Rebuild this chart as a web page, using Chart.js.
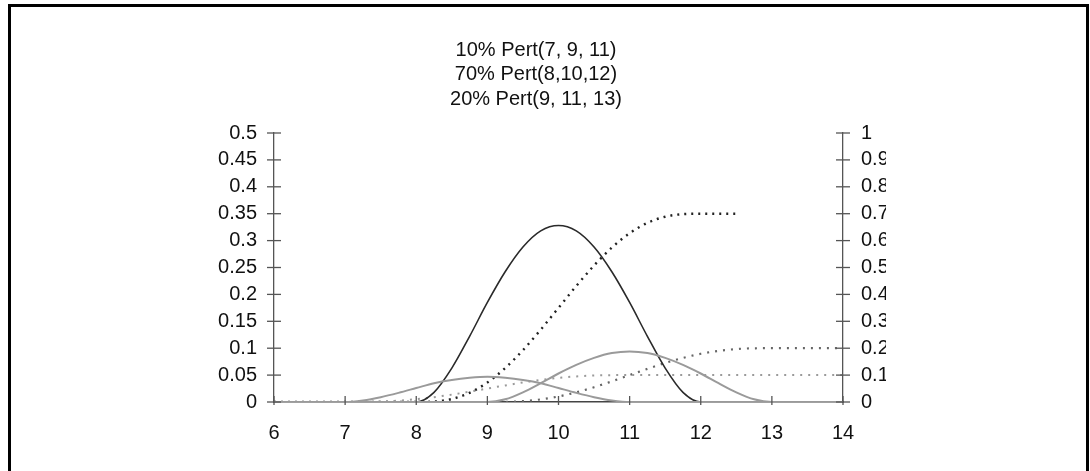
<!DOCTYPE html>
<html>
<head>
<meta charset="utf-8">
<script src="https://cdn.jsdelivr.net/npm/chart.js@4/dist/chart.umd.min.js"></script>
<style>
  html, body { margin: 0; padding: 0; background: #fff; overflow: hidden; }
  #frame { position: absolute; left: 8px; top: 4px; width: 1075px; height: 520px;
           border: 3px solid #000; border-bottom: none; }
  #wrap { position: absolute; left: 0; top: 0; width: 886px; height: 471px; overflow: hidden; }
  #chart { position: absolute; left: 0; top: 0; }
</style>
</head>
<body>
<div id="frame"></div>
<div id="wrap"><canvas id="chart" width="1072" height="471"></canvas></div>
<script>
const titleLines = ['10% Pert(7, 9, 11)', '70% Pert(8,10,12)', '20% Pert(9, 11, 13)'];

const xValues = [6, 6.25, 6.5, 6.75, 7, 7.25, 7.5, 7.75, 8, 8.25, 8.5, 8.75, 9, 9.25, 9.5, 9.75,
  10, 10.25, 10.5, 10.75, 11, 11.25, 11.5, 11.75, 12, 12.25, 12.5, 12.75, 13, 13.25, 13.5, 13.75, 14];

// densities (left axis)
const pdf10 = [0, 0, 0, 0, 0, 0.003, 0.009, 0.017, 0.026, 0.035, 0.041, 0.045, 0.047, 0.045, 0.041, 0.035,
  0.026, 0.017, 0.009, 0.003, 0, 0, 0, 0, 0, 0, 0, 0, 0, 0, 0, 0, 0];
const pdf70 = [0, 0, 0, 0, 0, 0, 0, 0, 0, 0.018, 0.063, 0.122, 0.185, 0.242, 0.288, 0.318,
  0.328, 0.318, 0.288, 0.242, 0.185, 0.122, 0.063, 0.018, 0, 0, 0, 0, 0, 0, 0, 0, 0];
const pdf20 = [0, 0, 0, 0, 0, 0, 0, 0, 0, 0, 0, 0, 0, 0.005, 0.018, 0.035,
  0.053, 0.069, 0.082, 0.091, 0.094, 0.091, 0.082, 0.069, 0.053, 0.035, 0.018, 0.005, 0, 0, 0, 0, 0];

// cumulative (right axis)
const cdf10 = [0, 0, 0, 0, 0, 0.0002, 0.0016, 0.0049, 0.0104, 0.018, 0.0275, 0.0384, 0.05, 0.0616, 0.0725, 0.082,
  0.0896, 0.0951, 0.0984, 0.0998, 0.1, 0.1, 0.1, 0.1, 0.1, 0.1, 0.1, 0.1, 0.1, 0.1, 0.1, 0.1, 0.1];
const cdf70 = [0, 0, 0, 0, 0, 0, 0, 0, 0, 0.0016, 0.0112, 0.0341, 0.0725, 0.126, 0.1926, 0.2688,
  0.35, 0.4312, 0.5074, 0.574, 0.6275, 0.6659, 0.6888, 0.6984, 0.7, 0.7, 0.7, null, null, null, null, null, null];
const cdf20 = [0, 0, 0, 0, 0, 0, 0, 0, 0, 0, 0, 0, 0, 0.0004, 0.0032, 0.0098,
  0.0207, 0.036, 0.055, 0.0768, 0.1, 0.1232, 0.145, 0.164, 0.1793, 0.1902, 0.1968, 0.1996, 0.2, 0.2, 0.2, 0.2, 0.2];

const pts = arr => arr.map((v, i) => ({ x: xValues[i], y: v }));
const fmt = v => String(+Number(v).toFixed(2));

function line(data, color, width, axis, dash) {
  return {
    data: pts(data), borderColor: color, borderWidth: width, yAxisID: axis,
    borderDash: dash || [], pointRadius: 0, tension: 0.4, cubicInterpolationMode: 'monotone',
    fill: false
  };
}

// tick marks that cross the axis lines
const crossTicks = {
  id: 'crossTicks',
  afterDraw(chart) {
    const ctx = chart.ctx;
    ctx.save();
    ctx.strokeStyle = '#555';
    ctx.lineWidth = 1.3;
    ['y', 'y1'].forEach(id => {
      const s = chart.scales[id];
      const x = id === 'y' ? s.right : s.left;
      s.ticks.forEach((t, i) => {
        const y = s.getPixelForTick(i);
        ctx.beginPath(); ctx.moveTo(x - 7, y); ctx.lineTo(x + 7, y); ctx.stroke();
      });
    });
    const sx = chart.scales.x;
    sx.ticks.forEach((t, i) => {
      const x = sx.getPixelForTick(i);
      ctx.beginPath(); ctx.moveTo(x, sx.top - 6); ctx.lineTo(x, sx.top + 3); ctx.stroke();
    });
    ctx.restore();
  }
};

const tickFont = { family: 'Arial, "Liberation Sans", sans-serif', size: 20 };
const noGrid = { display: false, drawTicks: false };

new Chart(document.getElementById('chart'), {
  type: 'line',
  data: {
    datasets: [
      line(pdf10, '#9a9a9a', 2, 'y'),
      line(pdf20, '#9a9a9a', 2, 'y'),
      line(pdf70, '#2a2a2a', 1.6, 'y'),
      line(cdf10, '#9a9a9a', 2, 'y1', [2, 6]),
      line(cdf20, '#666', 2.2, 'y1', [2, 6]),
      line(cdf70, '#222', 2.4, 'y1', [2, 5])
    ]
  },
  plugins: [crossTicks],
  options: {
    responsive: false,
    animation: false,
    layout: { padding: 0 },
    plugins: {
      legend: { display: false },
      tooltip: { enabled: false },
      title: {
        display: true,
        text: titleLines,
        color: '#111',
        font: { family: 'Arial, "Liberation Sans", sans-serif', size: 20, weight: 'normal', lineHeight: 1.24 },
        padding: { top: 37.6, bottom: 21 }
      }
    },
    scales: {
      x: {
        type: 'linear', min: 6, max: 14,
        grid: noGrid,
        border: { display: true, color: '#444', width: 1.5 },
        ticks: { stepSize: 1, autoSkip: false, color: '#111', font: tickFont, padding: 19 },
        afterFit(s) { s.height = 69; }
      },
      y: {
        position: 'left', min: 0, max: 0.5,
        grid: noGrid,
        border: { display: true, color: '#555', width: 1.3 },
        ticks: { stepSize: 0.05, autoSkip: false, color: '#111', font: tickFont, padding: 17, callback: fmt },
        afterFit(s) { s.width = 274; }
      },
      y1: {
        position: 'right', min: 0, max: 1,
        grid: noGrid,
        border: { display: true, color: '#555', width: 1.3 },
        ticks: { stepSize: 0.1, autoSkip: false, color: '#111', font: tickFont, padding: 18, callback: fmt },
        afterFit(s) { s.width = 229; }
      }
    }
  }
});
</script>
</body>
</html>
